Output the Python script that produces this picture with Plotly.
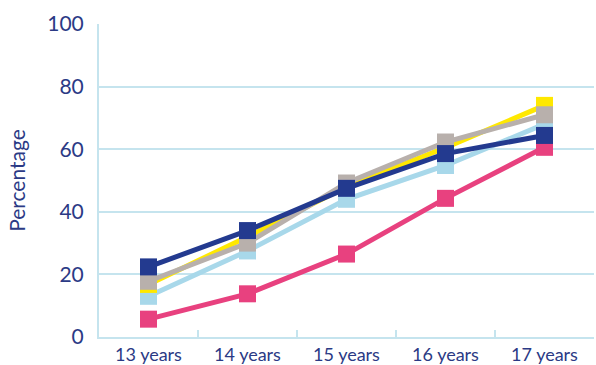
import plotly.graph_objects as go

categories = ["13 years", "14 years", "15 years", "16 years", "17 years"]
pink = [5.7, 13.8, 26.5, 44.3, 60.6]
light_blue = [13.0, 27.5, 44.0, 54.8, 68.0]
yellow = [16.8, 32.0, 48.0, 60.5, 74.0]
gray = [17.8, 30.0, 49.2, 62.3, 71.0]
navy = [22.4, 34.0, 47.5, 58.6, 64.4]

series = [
    ("pink", pink, "#E8417F"),
    ("light blue", light_blue, "#A8D8EA"),
    ("yellow", yellow, "#FFE800"),
    ("gray", gray, "#B8B0AC"),
    ("navy", navy, "#233A8F"),
]

text_color = "#2B3A85"
grid_color = "#C5E4EE"

fig = go.Figure()
for name, vals, col in series:
    fig.add_trace(go.Scatter(
        x=categories, y=vals, name=name, mode="lines+markers",
        line=dict(color=col, width=5),
        marker=dict(symbol="square", size=17, color=col),
    ))

fig.update_layout(
    width=596, height=365,
    margin=dict(l=99, r=2, t=24, b=28),
    paper_bgcolor="white", plot_bgcolor="white",
    showlegend=False,
    font=dict(family="Lato, Open Sans, sans-serif", color=text_color),
)
fig.update_xaxes(
    type="category", range=[-0.5, 4.5], automargin=False,
    showline=True, linecolor=grid_color, linewidth=2,
    ticks="inside", tickson="boundaries", tickcolor=grid_color, ticklen=7, tickwidth=2,
    showgrid=False, tickfont=dict(size=18, color=text_color), ticklabelstandoff=0,
)
fig.update_yaxes(
    range=[0, 100], tickvals=[0, 20, 40, 60, 80, 100], automargin=False,
    showline=True, linecolor=grid_color, linewidth=2,
    showgrid=True, gridcolor=grid_color, gridwidth=2,
    zeroline=False, ticks="", ticklabelstandoff=9,
    tickfont=dict(size=21, color=text_color),
    title=dict(text="Percentage", font=dict(size=21, color=text_color), standoff=16),
)

fig.write_html("out.html")
